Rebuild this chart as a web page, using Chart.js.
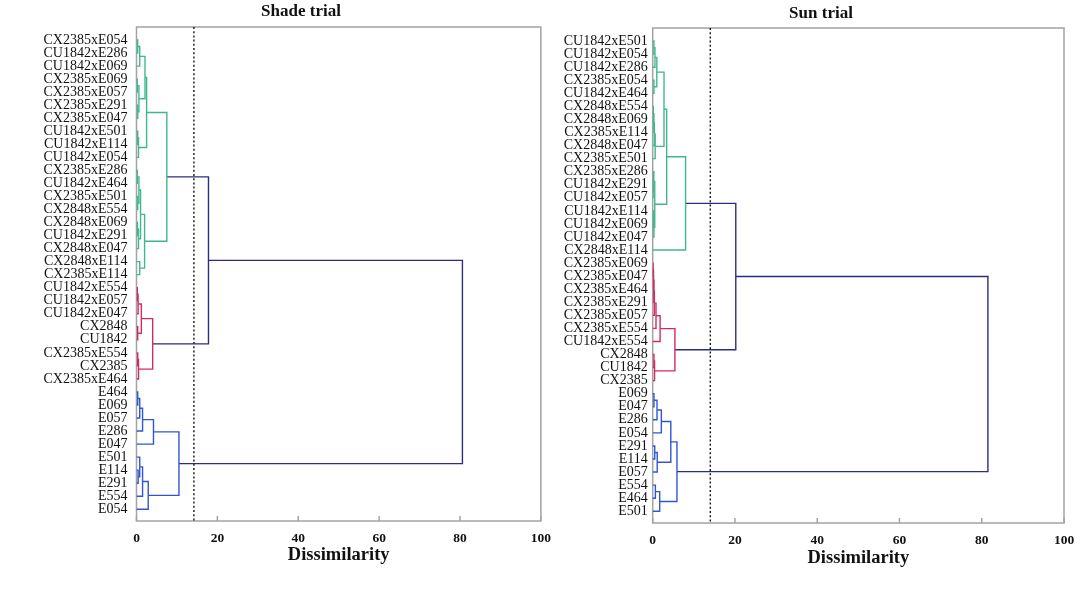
<!DOCTYPE html>
<html><head><meta charset="utf-8">
<script src="https://cdn.jsdelivr.net/npm/chart.js@4/dist/chart.umd.min.js"></script>
<style>
html,body{margin:0;padding:0;background:#fff;overflow:hidden;width:1084px;height:593px}
#c1{position:absolute;left:0;top:0}
#c2{position:absolute;left:560px;top:0}
</style>
</head><body>
<canvas id="c1" width="560" height="593"></canvas>
<canvas id="c2" width="524" height="593"></canvas>
<script>
// ---------- data ----------
const panelTitles = ["Shade trial", "Sun trial"];
const axisTitle = "Dissimilarity";
const xTicks = [0, 20, 40, 60, 80, 100];

const shadeLeaves = ["CX2385xE054","CU1842xE286","CU1842xE069","CX2385xE069","CX2385xE057","CX2385xE291","CX2385xE047","CU1842xE501","CU1842xE114","CU1842xE054","CX2385xE286","CU1842xE464","CX2385xE501","CX2848xE554","CX2848xE069","CU1842xE291","CX2848xE047","CX2848xE114","CX2385xE114","CU1842xE554","CU1842xE057","CU1842xE047","CX2848","CU1842","CX2385xE554","CX2385","CX2385xE464","E464","E069","E057","E286","E047","E501","E114","E291","E554","E054"];
// [childA, childB, height, group]; numbers = leaf index, "mK" = merge K
const shadeMerges = [
  [0,1,0.3,'g'],['m0',2,0.8,'g'],[3,4,0.2,'g'],[5,6,0.3,'g'],['m2','m3',0.6,'g'],['m1','m4',2.1,'g'],
  [7,8,0.3,'g'],['m6',9,0.5,'g'],['m5','m7',2.5,'g'],[10,11,0.2,'g'],[12,13,0.3,'g'],['m9','m10',0.6,'g'],
  [14,15,0.2,'g'],['m12',16,0.5,'g'],['m11','m13',1.0,'g'],[17,18,0.8,'g'],['m14','m15',2.0,'g'],['m8','m16',7.5,'g'],
  [19,20,0.2,'r'],['m18',21,0.4,'r'],[22,23,0.3,'r'],['m19','m20',1.2,'r'],[24,25,0.3,'r'],['m22',26,0.5,'r'],['m21','m23',4.0,'r'],
  [27,28,0.3,'b'],['m25',29,0.8,'b'],['m26',30,1.5,'b'],['m27',31,4.2,'b'],[33,34,0.4,'b'],[32,'m29',0.8,'b'],
  ['m30',35,1.5,'b'],['m31',36,2.9,'b'],['m28','m32',10.5,'b'],
  ['m17','m24',17.8,'n'],['m34','m33',80.6,'n']
];
const shadeCut = 14.2;

const sunLeaves = ["CU1842xE501","CU1842xE054","CU1842xE286","CX2385xE054","CU1842xE464","CX2848xE554","CX2848xE069","CX2385xE114","CX2848xE047","CX2385xE501","CX2385xE286","CU1842xE291","CU1842xE057","CU1842xE114","CU1842xE069","CU1842xE047","CX2848xE114","CX2385xE069","CX2385xE047","CX2385xE464","CX2385xE291","CX2385xE057","CX2385xE554","CU1842xE554","CX2848","CU1842","CX2385","E069","E047","E286","E054","E291","E114","E057","E554","E464","E501"];
const sunMerges = [
  [0,1,0.3,'g'],['m0',2,0.55,'g'],[3,4,0.3,'g'],['m1','m2',1.0,'g'],[5,6,0.15,'g'],['m4',7,0.3,'g'],
  ['m5',8,0.4,'g'],['m6',9,0.6,'g'],['m3','m7',2.75,'g'],[11,12,0.1,'g'],[10,'m9',0.3,'g'],[13,14,0.2,'g'],
  ['m11',15,0.3,'g'],['m10','m12',0.5,'g'],['m8','m13',3.4,'g'],['m14',16,8.0,'g'],
  [17,18,0.1,'r'],['m16',19,0.2,'r'],['m17',20,0.3,'r'],['m18',21,0.4,'r'],['m19',22,0.8,'r'],['m20',23,1.8,'r'],
  [24,25,0.3,'r'],['m22',26,0.45,'r'],['m21','m23',5.4,'r'],
  [27,28,0.3,'b'],['m25',29,1.05,'b'],['m26',30,2.1,'b'],[31,32,0.5,'b'],['m28',33,1.1,'b'],['m27','m29',4.4,'b'],
  [34,35,0.65,'b'],['m31',36,1.7,'b'],['m30','m32',5.9,'b'],
  ['m15','m24',20.2,'n'],['m34','m33',81.5,'n']
];
const sunCut = 14.0;

// ---------- styles ----------
const groupColors = {g:'#3fb88e', r:'#d42a62', b:'#3056d3', n:'#2e2c7e'};
const SERIF = '"Liberation Serif","Times New Roman",serif';

function buildDatasets(merges, cut, nLeaves) {
  const pos = [];
  const node = ref => typeof ref === 'number' ? {x:0, y:ref} : pos[+String(ref).slice(1)];
  const ds = merges.map(([a,b,h,g], k) => {
    const A = node(a), B = node(b);
    pos[k] = {x:h, y:(A.y + B.y) / 2};
    return {
      data:[{x:A.x,y:A.y},{x:h,y:A.y},{x:h,y:B.y},{x:B.x,y:B.y}],
      borderColor: groupColors[g], borderWidth: 1.4,
      showLine: true, pointRadius: 0, fill: false, tension: 0
    };
  });
  ds.push({
    data:[{x:cut,y:-1},{x:cut,y:nLeaves - 0.1}],
    borderColor:'#000', borderWidth:1.3, borderDash:[2,2.2],
    showLine:true, pointRadius:0, fill:false
  });
  return ds;
}

const framePlugin = {
  id:'frame',
  beforeDatasetsDraw(chart) {
    const {ctx, chartArea:{left,right,top,bottom}, scales:{x}} = chart;
    ctx.save();
    ctx.strokeStyle = '#a3a3a3';
    ctx.lineWidth = 1.5;
    ctx.strokeRect(left, top, right-left, bottom-top);
    ctx.beginPath();
    xTicks.forEach(v => {
      const px = x.getPixelForValue(v);
      ctx.moveTo(px, bottom); ctx.lineTo(px, bottom - 5);
    });
    ctx.stroke();
    ctx.restore();
  },
  afterDraw(chart, args, opts) {
    const ctx = chart.ctx;
    ctx.save();
    ctx.font = 'bold 17px ' + SERIF;
    ctx.fillStyle = '#111';
    ctx.textAlign = 'center';
    ctx.textBaseline = 'alphabetic';
    ctx.fillText(opts.text, opts.x, opts.y);
    ctx.restore();
  }
};

function makeChart(id, leaves, merges, cut, cfg) {
  return new Chart(document.getElementById(id), {
    type:'scatter',
    data:{datasets: buildDatasets(merges, cut, leaves.length)},
    plugins:[framePlugin],
    options:{
      responsive:false, animation:false, devicePixelRatio:1,
      layout:{padding:{left:0, right:cfg.padRight, top:cfg.padTop, bottom:0}},
      plugins:{legend:{display:false}, tooltip:{enabled:false},
        frame:{text:cfg.title, x:cfg.titleX, y:cfg.titleY}},
      scales:{
        x:{
          type:'linear', min:0, max:100,
          grid:{display:false, drawTicks:false}, border:{display:false},
          ticks:{stepSize:20, maxRotation:0, padding:9, color:'#111',
                 font:{family:SERIF, size:13.5, weight:'bold'}},
          title:{display:true, text:axisTitle, color:'#111',
                 font:{family:SERIF, size:18.5, weight:'bold'},
                 padding:{top:0, bottom:cfg.titlePad}},
          afterFit: s => { s.height = cfg.xHeight; }
        },
        y:{
          type:'linear', reverse:true, min:-1, max:leaves.length - 0.1,
          grid:{display:false, drawTicks:false}, border:{display:false},
          afterBuildTicks: s => { s.ticks = leaves.map((_, i) => ({value:i})); },
          ticks:{autoSkip:false, padding:cfg.yPad, color:'#111',
                 font:{family:SERIF, size:14},
                 callback: v => leaves[v]},
          afterFit: s => { s.width = cfg.yWidth; }
        }
      }
    }
  });
}

makeChart('c1', shadeLeaves, shadeMerges, shadeCut,
  {padRight:17, padTop:27, xHeight:72, yWidth:136.5, yPad:9, titlePad:26.5,
   title:panelTitles[0], titleX:301, titleY:16});
makeChart('c2', sunLeaves, sunMerges, sunCut,
  {padRight:20, padTop:28, xHeight:70, yWidth:92.7, yPad:5, titlePad:24,
   title:panelTitles[1], titleX:261, titleY:17.5});
</script>
</body></html>
